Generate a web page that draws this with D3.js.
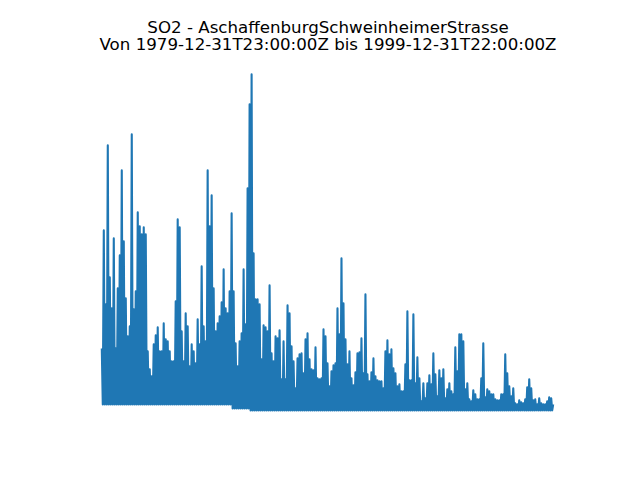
<!DOCTYPE html>
<html>
<head>
<meta charset="utf-8">
<script src="https://cdn.jsdelivr.net/npm/d3@7"></script>
<style>
  html, body { margin: 0; padding: 0; background: #fff; }
  svg { display: block; }
</style>
</head>
<body>
<svg id="chart" width="640" height="480"></svg>
<script>
// ---- data ----
const titleLines = ["SO2 - AschaffenburgSchweinheimerStrasse",
                    "Von 1979-12-31T23:00:00Z bis 1999-12-31T22:00:00Z"];
const startTime = "1979-12-31T23:00:00Z";
const endTime = "1999-12-31T22:00:00Z";

// local maxima of the series, in time order (evenly spaced samples)
const peakValues = [
  62,180,106,265,133,102,172,62,122,155,240,169,112,74,84,276,101,119,198,184,
  176,183,176,59,41,34,66,75,83,59,59,87,71,69,59,49,49,109,191,183,
  79,49,97,84,44,66,59,47,91,66,144,84,69,240,184,215,122,79,87,94,
  108,141,102,97,119,197,119,67,44,69,77,141,86,222,306,336,157,111,111,106,
  51,85,83,79,125,57,49,74,72,80,31,69,31,105,97,64,49,22,52,56,
  57,37,71,77,51,41,40,63,32,31,32,81,74,47,24,39,45,47,102,76,
  152,107,71,46,59,32,25,38,57,58,72,37,116,36,29,38,52,34,30,29,
  29,22,59,70,56,61,42,37,24,26,19,19,46,99,30,30,96,27,53,32,
  9,27,12,27,35,26,57,36,14,40,32,41,12,21,27,19,16,63,39,76,
  76,69,21,27,11,9,20,16,11,11,32,67,13,21,19,16,16,11,10,10,
  16,16,56,37,24,14,22,7,6,10,8,7,11,23,31,22,10,11,6,12,
  7,6,6,9,13,12,6
];
// level the series drops back to between peaks, by period
const troughLevels = [6, 2, 0];
const troughUntil = ["1985-10-12T00:00:00Z", "1986-07-30T00:00:00Z", "2000-01-01T00:00:00Z"];

// ---- build series ----
const t0 = new Date(startTime), t1 = new Date(endTime);
const n = peakValues.length;
const step = (t1 - t0) / (n - 1);
const untilDates = troughUntil.map(d => new Date(d));
function troughAt(t) {
  for (let k = 0; k < untilDates.length; k++) if (t < untilDates[k]) return troughLevels[k];
  return troughLevels[troughLevels.length - 1];
}
const series = [];
peakValues.forEach((v, i) => {
  const t = new Date(+t0 + i * step);
  series.push({t, v});
  if (i < n - 1) {
    const tm = new Date(+t + step / 2);
    series.push({t: tm, v: troughAt(tm)});
  }
});

// ---- layout (matplotlib-like) ----
const svg = d3.select("#chart");

const x = d3.scaleUtc()
  .domain([t0, t1])
  .range([101.8, 553.2]);

const yMin = d3.min(series, d => d.v), yMax = d3.max(series, d => d.v);
const pad = (yMax - yMin) * 0.05;
const y = d3.scaleLinear()
  .domain([yMin - pad, yMax + pad])
  .range([427.2, 57.6]);

const line = d3.line()
  .x(d => x(d.t))
  .y(d => y(d.v));

svg.append("path")
  .datum(series)
  .attr("d", line)
  .attr("fill", "none")
  .attr("stroke", "#1f77b4")
  .attr("stroke-width", 2.1)
  .attr("stroke-linejoin", "round");

// ---- title ----
const title = svg.append("text")
  .attr("x", 328)
  .attr("text-anchor", "middle")
  .attr("font-family", "DejaVu Sans, sans-serif")
  .attr("font-size", "16.67px")
  .attr("fill", "#000");
titleLines.forEach((s, i) => {
  title.append("tspan")
    .attr("x", 328)
    .attr("y", 32.5 + i * 17.5)
    .text(s);
});
</script>
</body>
</html>
